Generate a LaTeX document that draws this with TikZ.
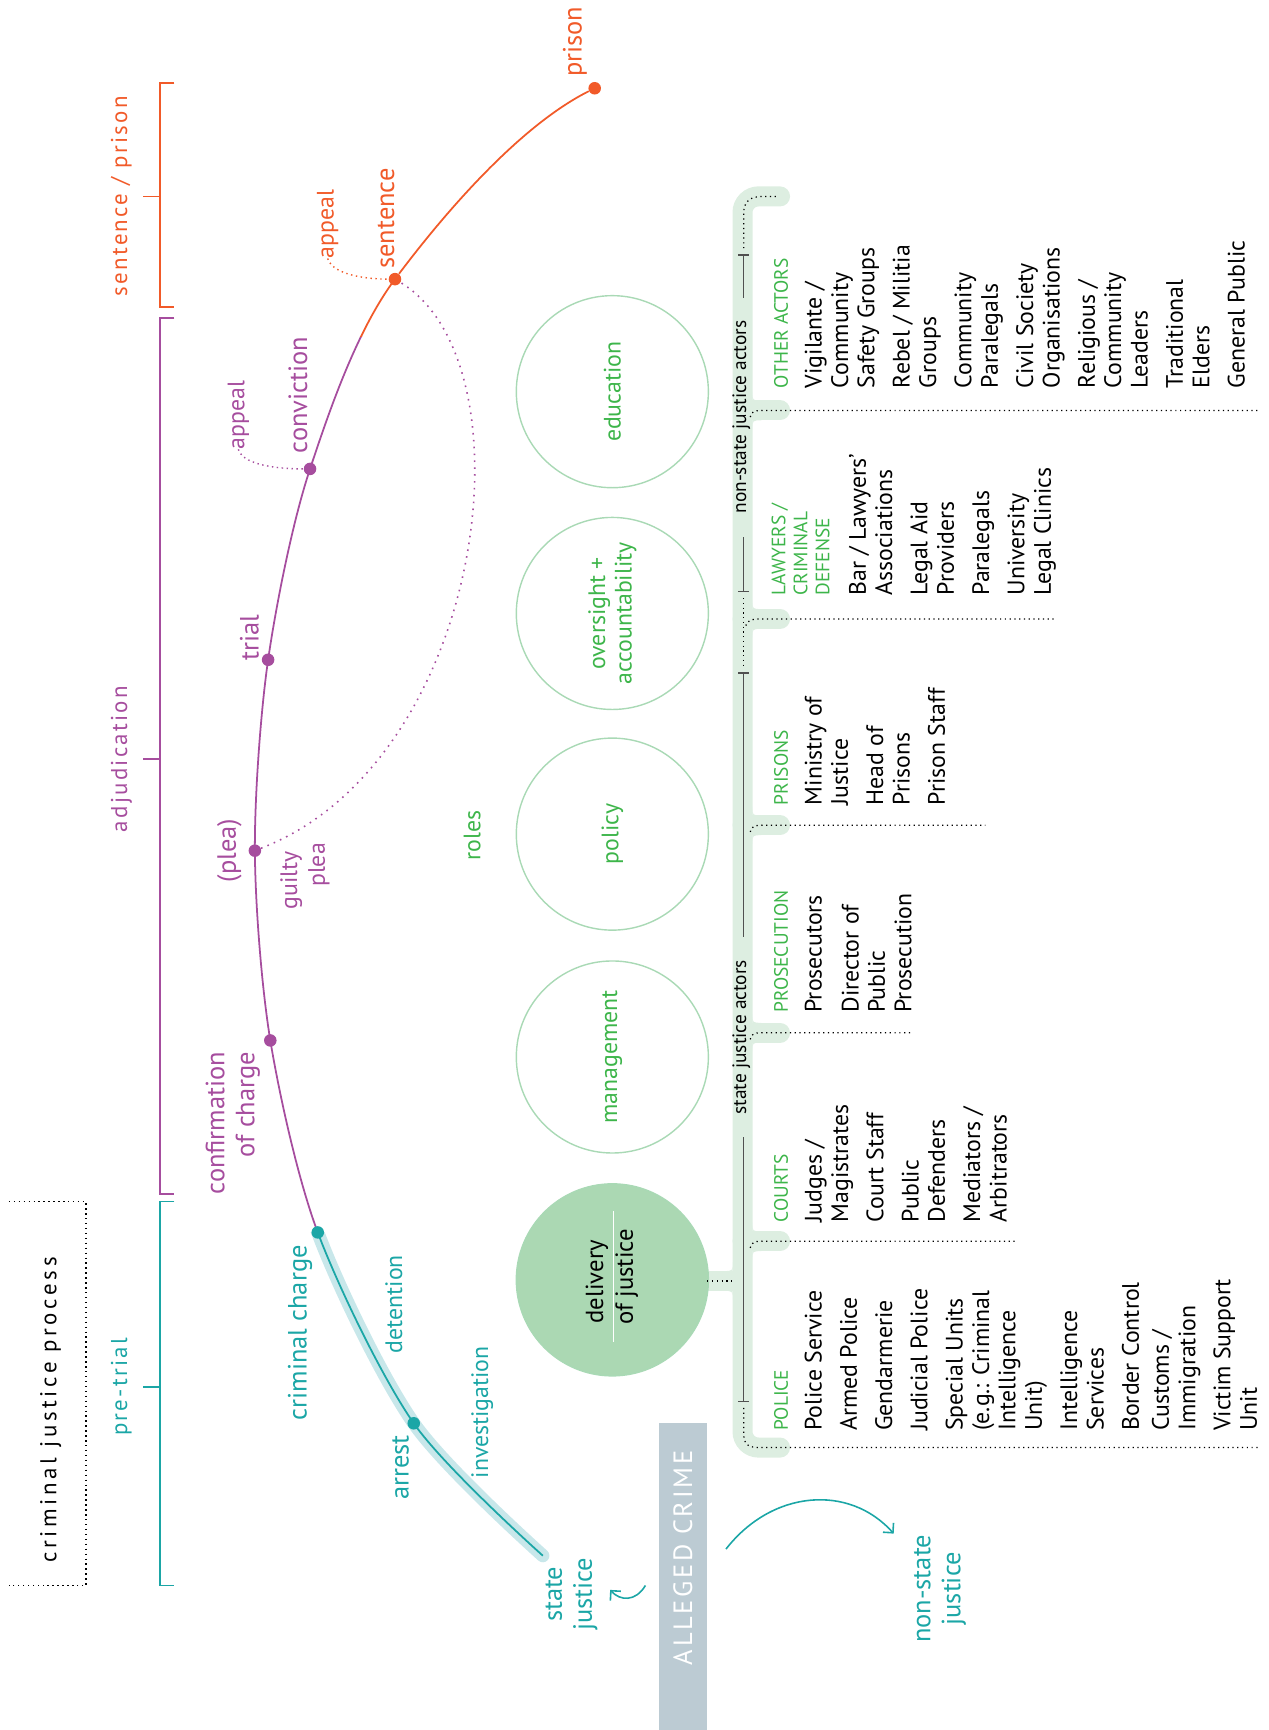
\documentclass[tikz,border=0pt]{standalone}
\usepackage{fontspec}
\setmainfont{PT Sans}
\newfontfamily\trackfont{PT Sans}[LetterSpace=10]
\newfontfamily\titlefont{PT Sans}[LetterSpace=16]
\usetikzlibrary{arrows.meta,positioning,calc}
\definecolor{cteal}{RGB}{27,166,166}
\definecolor{cglow}{RGB}{200,231,234}
\definecolor{cpurple}{RGB}{166,77,158}
\definecolor{corange}{RGB}{241,90,41}
\definecolor{cgreen}{RGB}{61,181,74}
\definecolor{cring}{RGB}{169,217,181}
\definecolor{cfill}{RGB}{171,216,179}
\definecolor{cband}{RGB}{221,238,225}
\definecolor{cbox}{RGB}{188,203,211}
\definecolor{cspine}{RGB}{80,80,80}

\begin{document}
\begin{tikzpicture}[x=0.022cm, y=-0.022cm,
    lbl/.style={rotate=90, inner sep=0pt},
    stagebig/.style={lbl, font=\fontsize{15}{17}\selectfont},
    stagesmall/.style={lbl, font=\fontsize{13.5}{15}\selectfont},
    phase/.style={lbl, font=\trackfont\fontsize{13}{15}\selectfont},
    actorlist/.style={lbl, anchor=north west, align=left, font=\fontsize{13.5}{15}\selectfont},
    actorhead/.style={lbl, anchor=west, text=cgreen, font=\fontsize{11}{12.5}\selectfont},
    stagedot/.style={circle, fill, inner sep=0pt, minimum size=0.25cm},
    role/.style={circle, draw=cring, line width=0.8pt, minimum size=3.83cm, inner sep=0pt, rotate=90,
      text=cgreen, align=center, font=\fontsize{13.5}{15}\selectfont},
    band/.style={cband, line width=0.4cm, line cap=round},
    divider/.style={dotted, line width=0.7pt},
    spine/.style={cspine, line width=0.8pt},
    flow/.style={cteal, line width=0.9pt, -{Straight Barb[length=4pt,width=8pt]}}]
  \useasboundingbox (0,0) rectangle (1150,1568);

  % phases
  \draw[corange, line width=1pt] (158,75) -- (145,75) -- (145,278) -- (158,278) (145,178) -- (130,178);
  \draw[cpurple, line width=1pt] (158,288) -- (145,288) -- (145,1082) -- (158,1082) (145,688) -- (130,688);
  \draw[cteal, line width=1pt] (158,1089) -- (145,1089) -- (145,1437) -- (158,1437) (145,1257) -- (130,1257);
  \node[phase, text=corange] (ph-sent) at (110,178) {sentence / prison};
  \node[phase, text=cpurple] (ph-adj) at (110,688) {adjudication};
  \node[phase, text=cteal] (ph-pre) at (110,1257) {pre-trial};
  \draw[dotted, line width=0.8pt] (8,1089) -- (78,1089) -- (78,1437) -- (8,1437);
  \node[lbl, font=\titlefont\fontsize{13}{15}\selectfont] (cjp) at (46,1278) {criminal justice process};

  % process curve
  \coordinate (p0) at (492,1410);
  \coordinate (p1) at (375,1290);
  \coordinate (p2) at (288,1117);
  \coordinate (p3) at (245,943);
  \coordinate (p4) at (231,771);
  \coordinate (p5) at (243,598);
  \coordinate (p6) at (281,425);
  \coordinate (p7) at (358,253);
  \coordinate (p8) at (539,80);
  \begin{scope}
    \clip (0,1117) rectangle (1150,1568);
    \draw[cglow, line width=7.5pt, line cap=round] plot[smooth] coordinates {(p0) (p1) (p2) (p3) (p4) (p5) (p6) (p7) (p8)};
  \end{scope}
  \foreach \col/\ya/\yb in {cteal/1117/1568, cpurple/305/1117, corange/253/305} {
    \begin{scope}
      \clip (0,\ya) rectangle (1150,\yb);
      \draw[\col, line width=1pt] plot[smooth] coordinates {(p0) (p1) (p2) (p3) (p4) (p5) (p6) (p7) (p8)};
    \end{scope}
  }
  \node[stagedot, cteal] (arrest) at (p1) {};
  \node[stagedot, cteal] (charge) at (p2) {};
  \node[stagedot, cpurple] (confirm) at (p3) {};
  \node[stagedot, cpurple] (plea) at (p4) {};
  \node[stagedot, cpurple] (trial) at (p5) {};
  \node[stagedot, cpurple] (conviction) at (p6) {};
  \node[stagedot, corange] (sentence) at (p7) {};
  \node[stagedot, corange] (prison) at (p8) {};
  \draw[corange, line width=1pt] (sentence) .. controls (410,184) and (475,112) .. (prison);

  \node[stagebig, text=corange] (l-prison) at (521,38) {prison};
  \node[stagebig, text=corange] (l-sentence) at (350,198) {sentence};
  \node[stagesmall, text=corange] (l-appeal2) at (297,203) {appeal};
  \node[stagebig, text=cpurple] (l-conviction) at (270,358) {conviction};
  \node[stagesmall, text=cpurple] (l-appeal1) at (216,376) {appeal};
  \node[stagebig, text=cpurple] (l-trial) at (226,578) {trial};
  \node[stagebig, text=cpurple] (l-plea) at (208,771) {(plea)};
  \node[stagesmall, text=cpurple] (l-guilty) at (264,798) {guilty};
  \node[stagesmall, text=cpurple] (l-gplea) at (289,784) {plea};
  \node[stagebig, text=cpurple, align=right, anchor=east] (l-confirm) at (211,953) {confirmation\\of charge};
  \node[stagebig, text=cteal] (l-charge) at (272,1208) {criminal charge};
  \node[stagesmall, text=cteal] (l-detention) at (357,1182) {detention};
  \node[stagebig, text=cteal] (l-arrest) at (363,1330) {arrest};
  \node[stagesmall, text=cteal] (l-invest) at (437,1280) {investigation};
  \node[stagebig, text=cteal, align=center] (l-state) at (518,1445) {state\\justice};
  \node[stagebig, text=cteal, align=center] (l-nonstate) at (852,1440) {non-state\\justice};

  \draw[cpurple, line width=0.9pt, dash pattern=on 0.9pt off 3pt] (plea) .. controls (440,690) and (485,330) .. (sentence);
  \draw[corange, line width=0.8pt, dash pattern=on 0.8pt off 2pt] (l-appeal2.west) .. controls +(5,16) and +(-22,0) .. (sentence);
  \draw[cpurple, line width=0.8pt, dash pattern=on 0.8pt off 2pt] (l-appeal1.west) .. controls +(5,16) and +(-22,0) .. (conviction);

  % alleged crime
  \fill[cbox] (597,1290) rectangle (641,1568);
  \node[lbl, text=white, font=\trackfont\fontsize{15}{17}\selectfont] (crime) at (619,1412) {ALLEGED CRIME};
  \coordinate (sj-from) at (585,1437);
  \coordinate (sj-to) at (553,1441);
  \draw[flow] (sj-from) .. controls (576,1452) and (562,1451) .. (sj-to);
  \coordinate (ns-from) at (658,1404);
  \coordinate (ns-to) at (810,1390);
  \draw[flow] (ns-from) .. controls (700,1350) and (770,1345) .. (ns-to);

  % actors spine
  \draw[band, rounded corners=0.32cm] (707,178) -- (673,178) -- (673,1312) -- (707,1312);
  \foreach \yy in {372,561,748,936,1125} {
    \draw[band] (673,\yy) -- (707,\yy);
    \fill[cband] (682,\yy-17) .. controls (682,\yy-9) .. (690,\yy-9) -- (690,\yy+9) .. controls (682,\yy+9) .. (682,\yy+17) -- cycle;
  }
  \draw[band, line cap=butt] (630,1161) -- (673,1161);
  \fill[cband] (664,1144) .. controls (664,1152) .. (656,1152) -- (656,1170) .. controls (664,1170) .. (664,1178) -- cycle;

  \node[lbl, font=\fontsize{11}{12}\selectfont, inner xsep=0.45cm] (state-actors) at (672,940) {state justice actors};
  \node[lbl, font=\fontsize{11}{12}\selectfont, inner xsep=0.45cm] (nonstate-actors) at (672,378) {non-state justice actors};
  \coordinate (sa-bot) at (674,1270);
  \coordinate (sa-top) at (674,610);
  \coordinate (na-bot) at (674,536);
  \coordinate (na-top) at (674,231);
  \draw[spine] (sa-bot) -- (sa-bot |- state-actors.west) (sa-top |- state-actors.east) -- (sa-top);
  \draw[spine] (na-bot) -- (na-bot |- nonstate-actors.west) (na-top |- nonstate-actors.east) -- (na-top);
  \foreach \tk in {sa-bot, sa-top, na-bot, na-top}
    \draw[spine] ([xshift=-3pt]\tk) -- ([xshift=3pt]\tk);

  \draw[divider] (674,1276) -- (674,1298) .. controls (674,1310) and (678,1312) .. (690,1312) -- (1140,1312);
  \draw[divider] (674,542) -- (674,604);
  \draw[divider] (674,225) -- (674,194) .. controls (674,182) and (680,178) .. (692,178) -- (706,178);
  \draw[divider] (676,567) .. controls (677,562) and (682,561) .. (690,561) -- (958,561);
  \foreach \yy/\xend in {372/1140, 748/893, 936/825, 1125/920}
    \draw[divider] (680,\yy+6) .. controls (681,\yy+1) and (684,\yy) .. (690,\yy) -- (\xend,\yy);

  % roles
  \node[role, fill=cfill] (delivery) at (555,1160) {};
  \draw[divider] (641,1161) -- (666,1161);
  \node[lbl, anchor=west, font=\fontsize{14}{16}\selectfont] (deliv-a) at (541,1200) {delivery};
  \node[lbl, anchor=west, font=\fontsize{14}{16}\selectfont] (deliv-b) at (568,1201) {of justice};
  \draw[white, line width=0.8pt] (556,1098) -- (556,1216);
  \node[role] (management) at (555,958) {management};
  \node[role] (policy) at (555,756) {policy};
  \node[role] (oversight) at (555,556) {oversight +\\accountability};
  \node[role] (education) at (555,355) {education};
  \node[lbl, text=cgreen, font=\fontsize{13.5}{15}\selectfont] (roles) at (428,757) {roles};

  % actor lists
  \node[actorhead] (h-police) at (708,1297) {POLICE};
  \node[actorlist] (police) at (729,1297) {Police Service\\[5pt] Armed Police\\[5pt] Gendarmerie\\[5pt] Judicial Police\\[5pt]
    Special Units\\ (e.g.: Criminal\\ Intelligence\\ Unit)\\[5pt] Intelligence\\ Services\\[5pt] Border Control\\[2pt]
    Customs /\\ Immigration\\[5pt] Victim Support\\ Unit};
  \node[actorhead] (h-courts) at (708,1108) {COURTS};
  \node[actorlist] (courts) at (729,1108) {Judges /\\ Magistrates\\[5pt] Court Staff\\[5pt] Public\\ Defenders\\[5pt]
    Mediators /\\ Arbitrators};
  \node[actorhead] (h-prosecution) at (708,918) {PROSECUTION};
  \node[actorlist] (prosecution) at (729,918) {Prosecutors\\[6pt] Director of\\ Public\\ Prosecution};
  \node[actorhead] (h-prisons) at (708,730) {PRISONS};
  \node[actorlist] (prisons) at (729,730) {Ministry of\\ Justice\\[5pt] Head of\\ Prisons\\[5pt] Prison Staff};
  \node[actorhead, anchor=north west, align=left] (h-lawyers) at (699,540) {LAWYERS /\\ CRIMINAL\\ DEFENSE};
  \node[actorlist] (lawyers) at (769,540) {Bar / Lawyers'\\ Associations\\[5pt] Legal Aid\\ Providers\\[5pt] Paralegals\\[5pt]
    University\\ Legal Clinics};
  \node[actorhead] (h-other) at (708,352) {OTHER ACTORS};
  \node[actorlist] (other) at (729,352) {Vigilante /\\ Community\\ Safety Groups\\[5pt] Rebel / Militia\\ Groups\\[5pt]
    Community\\ Paralegals\\[5pt] Civil Society\\ Organisations\\[5pt] Religious /\\ Community\\ Leaders\\[5pt]
    Traditional\\ Elders\\[5pt] General Public};
\end{tikzpicture}
\end{document}
